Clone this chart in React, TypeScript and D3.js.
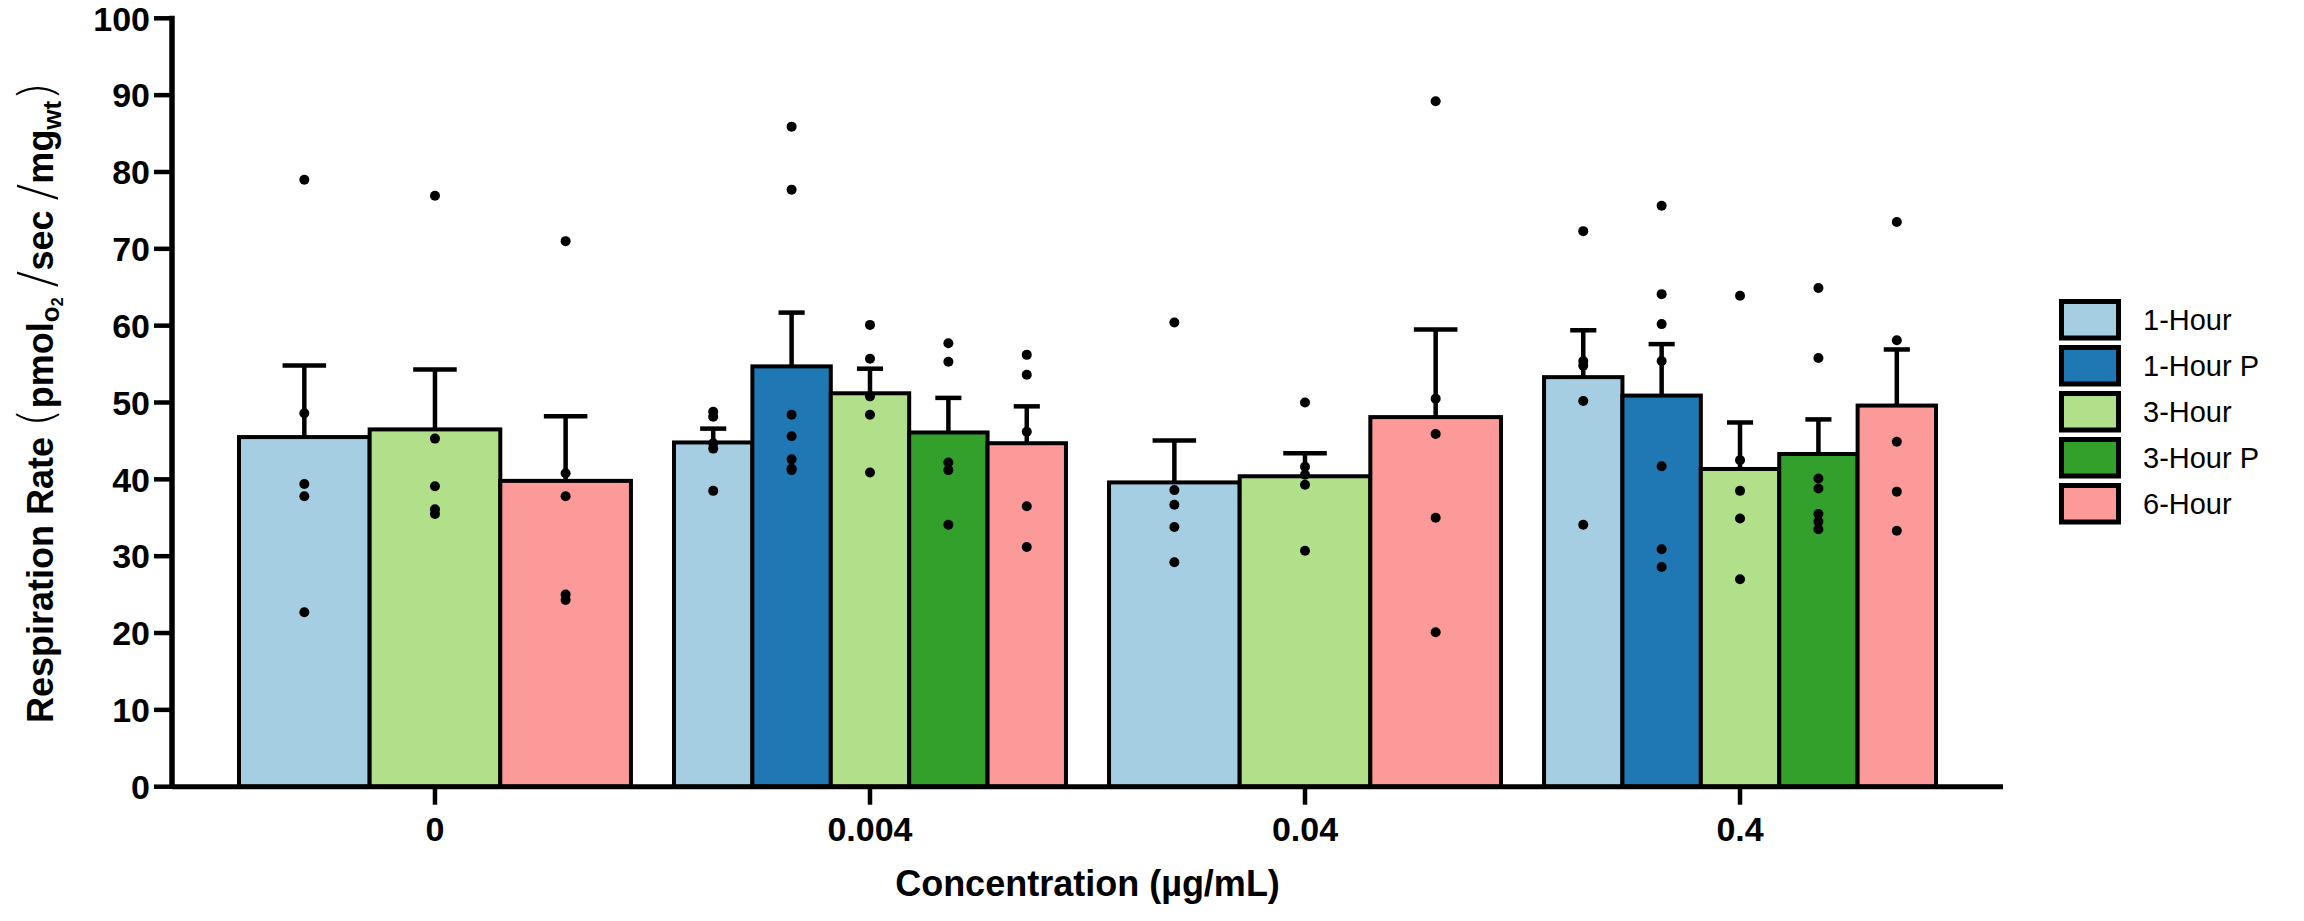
import * as d3 from 'd3'

const WIDTH = 2304
const HEIGHT = 921

const concentrations = ['0', '0.004', '0.04', '0.4']
const seriesNames = ['1-Hour', '1-Hour P', '3-Hour', '3-Hour P', '6-Hour']
const seriesColors = ['#a6cee3', '#1f78b4', '#b2df8a', '#33a02c', '#fb9a99']

// bar means and SEM per concentration (null = series not measured at that dose)
const meanOneHour = [45.5, 44.8, 39.6, 53.3]
const semOneHour = [9.3, 1.8, 5.45, 6.1]
const meanOneHourP = [null, 54.7, null, 50.9]
const semOneHourP = [null, 7.0, null, 6.7]
const meanThreeHour = [46.5, 51.2, 40.4, 41.35]
const semThreeHour = [7.8, 3.2, 3.0, 6.05]
const meanThreeHourP = [null, 46.1, null, 43.3]
const semThreeHourP = [null, 4.5, null, 4.5]
const meanSixHour = [39.8, 44.7, 48.1, 49.6]
const semSixHour = [8.4, 4.8, 11.4, 7.3]

// individual replicates
const ptsOneHour = [
  [79.0, 48.6, 39.4, 37.8, 22.7],
  [48.8, 48.15, 44.7, 44.0, 38.5],
  [60.4, 38.6, 36.7, 33.8, 29.2],
  [72.3, 55.4, 54.8, 50.2, 34.1],
]
const ptsOneHourP = [
  [],
  [85.9, 77.7, 48.4, 45.6, 42.6, 41.4, 41.2],
  [],
  [75.6, 64.1, 60.2, 55.4, 41.7, 30.9, 28.6],
]
const ptsThreeHour = [
  [76.9, 45.3, 39.1, 36.1, 35.5],
  [60.1, 55.7, 50.8, 48.4, 40.9],
  [50.0, 41.65, 40.6, 39.3, 30.7],
  [63.9, 42.5, 38.5, 34.9, 27.0],
]
const ptsThreeHourP = [
  [],
  [57.7, 55.3, 42.2, 41.2, 34.1],
  [],
  [64.9, 55.8, 40.1, 38.8, 35.5, 34.5, 33.5],
]
const ptsSixHour = [
  [71.0, 40.8, 37.8, 25.0, 24.3],
  [56.2, 53.6, 46.2, 36.5, 31.2],
  [89.2, 50.5, 45.9, 35.0, 20.1],
  [73.5, 58.1, 44.9, 38.4, 33.3],
]

const means = [meanOneHour, meanOneHourP, meanThreeHour, meanThreeHourP, meanSixHour]
const sems = [semOneHour, semOneHourP, semThreeHour, semThreeHourP, semSixHour]
const points = [ptsOneHour, ptsOneHourP, ptsThreeHour, ptsThreeHourP, ptsSixHour]

const FONT = '"Liberation Sans", Arial, sans-serif'
const LIGHT = '"DejaVu Sans", "Liberation Sans", sans-serif'

export default function App() {
  const left = 172
  const right = 2003
  const top = 18.3
  const bottom = 786.7

  const x0 = d3
    .scaleBand()
    .domain(concentrations)
    .range([left, right])
    .paddingInner(0.099)
    .paddingOuter(0.154)

  const y = d3.scaleLinear().domain([0, 100]).range([bottom, top])

  const groups = concentrations.map((c, gi) => {
    const present = seriesNames.filter((_, si) => means[si][gi] != null)
    const x1 = d3
      .scaleBand()
      .domain(present)
      .range([0, x0.bandwidth()])
    const gx = x0(c) ?? 0
    const bars = present.map((name) => {
      const si = seriesNames.indexOf(name)
      const m = means[si][gi] as number
      const s = sems[si][gi] as number
      const bx = gx + (x1(name) ?? 0)
      const bw = x1.bandwidth()
      const cx = bx + bw / 2
      return { name, si, m, s, bx, bw, cx, pts: points[si][gi] }
    })
    return { c, bars }
  })

  const allBars = groups.flatMap((g) => g.bars)

  return (
    <svg
      width={WIDTH}
      height={HEIGHT}
      style={{ position: 'absolute', left: 0, top: 0, background: '#fff' }}
      fontFamily={FONT}
    >
      {/* bars */}
      <g stroke="#000" strokeWidth={4}>
        {allBars.map((b, i) => (
          <rect
            key={i}
            x={b.bx}
            y={y(b.m)}
            width={b.bw}
            height={y(0) - y(b.m)}
            fill={seriesColors[b.si]}
          />
        ))}
      </g>

      {/* error bars (upper SEM only) */}
      <g stroke="#000" strokeWidth={4.5}>
        {allBars.map((b, i) => (
          <g key={i}>
            <line x1={b.cx} x2={b.cx} y1={y(b.m)} y2={y(b.m + b.s)} />
            <line
              x1={b.cx - b.bw / 6}
              x2={b.cx + b.bw / 6}
              y1={y(b.m + b.s)}
              y2={y(b.m + b.s)}
            />
          </g>
        ))}
      </g>

      {/* replicates */}
      <g fill="#000">
        {allBars.flatMap((b, i) =>
          b.pts.map((v, j) => <circle key={`${i}-${j}`} cx={b.cx} cy={y(v)} r={5} />),
        )}
      </g>

      {/* y axis */}
      <g stroke="#000">
        <line x1={left} x2={left} y1={y(100) - 2.5} y2={y(0)} strokeWidth={5.5} />
        {y.ticks(10).map((t) => (
          <line key={t} x1={left - 18} x2={left} y1={y(t)} y2={y(t)} strokeWidth={4.5} />
        ))}
      </g>
      <g fontSize={34} fontWeight="bold" textAnchor="end">
        {y.ticks(10).map((t) => (
          <text key={t} x={left - 22} y={y(t)} dy="0.36em">
            {t}
          </text>
        ))}
      </g>

      {/* x axis */}
      <g stroke="#000">
        <line x1={left} x2={right} y1={y(0)} y2={y(0)} strokeWidth={5} />
        {concentrations.map((c) => {
          const cx = (x0(c) ?? 0) + x0.bandwidth() / 2
          return <line key={c} x1={cx} x2={cx} y1={y(0)} y2={y(0) + 18} strokeWidth={4.5} />
        })}
      </g>
      <g fontSize={34} fontWeight="bold" textAnchor="middle">
        {concentrations.map((c) => (
          <text key={c} x={(x0(c) ?? 0) + x0.bandwidth() / 2} y={841}>
            {c}
          </text>
        ))}
      </g>

      {/* axis titles */}
      <text
        x={(left + right) / 2}
        y={896}
        textAnchor="middle"
        fontSize={36}
        fontWeight="bold"
      >
        Concentration (µg/mL)
      </text>
      <text
        transform={`translate(53,${(top + bottom) / 2}) rotate(-90)`}
        textAnchor="middle"
        fontSize={36}
        fontWeight="bold"
      >
        Respiration Rate{' '}
        <tspan fontFamily={LIGHT} fontWeight={200} fontSize={48}>
          (
        </tspan>
        pmol
        <tspan fontSize={26} dy={6}>
          o
        </tspan>
        <tspan fontSize={16} dy={4}>
          2
        </tspan>
        <tspan fontFamily={LIGHT} fontWeight={200} fontSize={50} dy={-10}>
          {'\u2009/'}
        </tspan>
        sec
        <tspan fontFamily={LIGHT} fontWeight={200} fontSize={50}>
          {'\u2009/'}
        </tspan>
        mg
        <tspan fontSize={26} dy={8}>
          wt
        </tspan>
        <tspan fontFamily={LIGHT} fontWeight={200} fontSize={48} dy={-8}>
          )
        </tspan>
      </text>

      {/* legend */}
      <g>
        {seriesNames.map((name, i) => (
          <g key={name} transform={`translate(2059,${299 + i * 46})`}>
            <rect
              x={2.5}
              y={2.5}
              width={57}
              height={36.5}
              fill={seriesColors[i]}
              stroke="#000"
              strokeWidth={5}
            />
            <text x={84} y={31} fontSize={29}>
              {name}
            </text>
          </g>
        ))}
      </g>
    </svg>
  )
}
